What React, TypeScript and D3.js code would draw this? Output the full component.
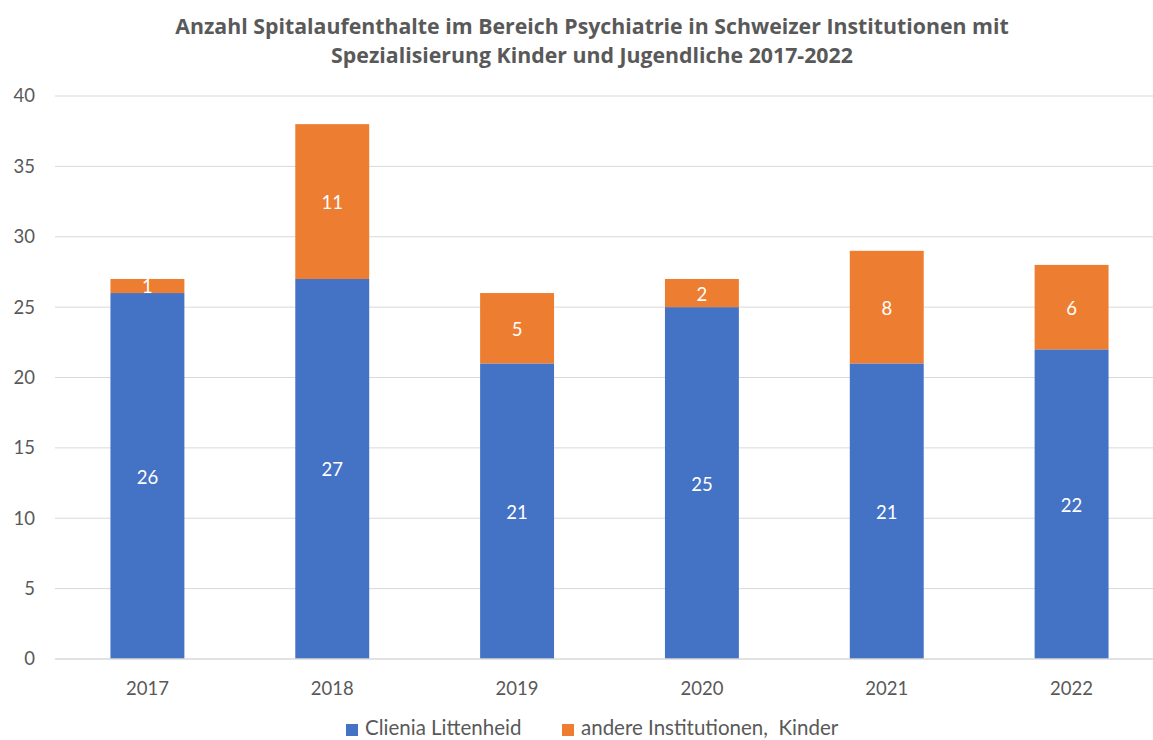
import React from 'react';
import * as d3 from 'd3';

const years = ['2017', '2018', '2019', '2020', '2021', '2022'];
const clienia = [26, 27, 21, 25, 21, 22];
const andere = [1, 11, 5, 2, 8, 6];
const seriesNames = ['Clienia Littenheid', 'andere Institutionen,  Kinder'];
const yTicks = [0, 5, 10, 15, 20, 25, 30, 35, 40];
const titleLines = [
  'Anzahl Spitalaufenthalte im Bereich Psychiatrie in Schweizer Institutionen mit',
  'Spezialisierung Kinder und Jugendliche 2017-2022',
];

const colors = ['#4472C4', '#ED7D31'];
const font = 'Lato, "Open Sans", sans-serif';
const W = 1153;
const H = 740;

export default function App() {
  const margin = { top: 96, left: 55, bottom: 81, right: -11 };

  const x = d3.scaleBand()
    .domain(years)
    .range([margin.left, W - margin.right])
    .paddingInner(0.6)
    .paddingOuter(0.3);

  const y = d3.scaleLinear()
    .domain([0, 40])
    .range([H - margin.bottom, margin.top]);

  const rows = years.map((yr, i) => ({ year: yr, clienia: clienia[i], andere: andere[i] }));
  const stacked = d3.stack<any>().keys(['clienia', 'andere'])(rows);

  return (
    <svg width={W} height={H} style={{ position: 'absolute', left: 0, top: 0, background: '#fff' }}
      fontFamily={font}>
      <rect width={W} height={H} fill="#fff" />
      {titleLines.map((t, i) => (
        <text key={i} x={592} y={34 + i * 29} textAnchor="middle" fontSize={21.3} fontWeight="bold" fill="#595959"
          fontFamily='"Open Sans", sans-serif'>{t}</text>
      ))}

      {yTicks.map(t => (
        <g key={t}>
          {t > 0 && <line x1={margin.left} x2={W} y1={y(t)} y2={y(t)} stroke="#d9d9d9" strokeWidth={1} />}
          <text x={35} y={y(t)} dy="0.35em" textAnchor="end" fontSize={18.5} fill="#595959">{t}</text>
        </g>
      ))}

      {stacked.map((s, si) => (
        <g key={si}>
          {s.map((d, i) => (
            <g key={i}>
              <rect x={x(years[i])} width={x.bandwidth()} y={y(d[1])} height={y(d[0]) - y(d[1])} fill={colors[si]} />
              <text x={(x(years[i]) as number) + x.bandwidth() / 2} y={(y(d[0]) + y(d[1])) / 2 + 1} dy="0.35em"
                textAnchor="middle" fontSize={18.5} fill="#fff">{d[1] - d[0]}</text>
            </g>
          ))}
        </g>
      ))}

      <line x1={margin.left} x2={W} y1={y(0)} y2={y(0)} stroke="#d9d9d9" strokeWidth={1.5} />
      {years.map(yr => (
        <text key={yr} x={(x(yr) as number) + x.bandwidth() / 2} y={689} dy="0.35em" textAnchor="middle" fontSize={18.5} fill="#595959">{yr}</text>
      ))}

      <rect x={346} y={724} width={12} height={12} fill={colors[0]} />
      <text x={365} y={735} fontSize={20.5} fill="#595959">{seriesNames[0]}</text>
      <rect x={562} y={724} width={12} height={12} fill={colors[1]} />
      <text x={581} y={735} fontSize={20.5} fill="#595959" style={{ whiteSpace: 'pre' }}>{seriesNames[1]}</text>
    </svg>
  );
}
